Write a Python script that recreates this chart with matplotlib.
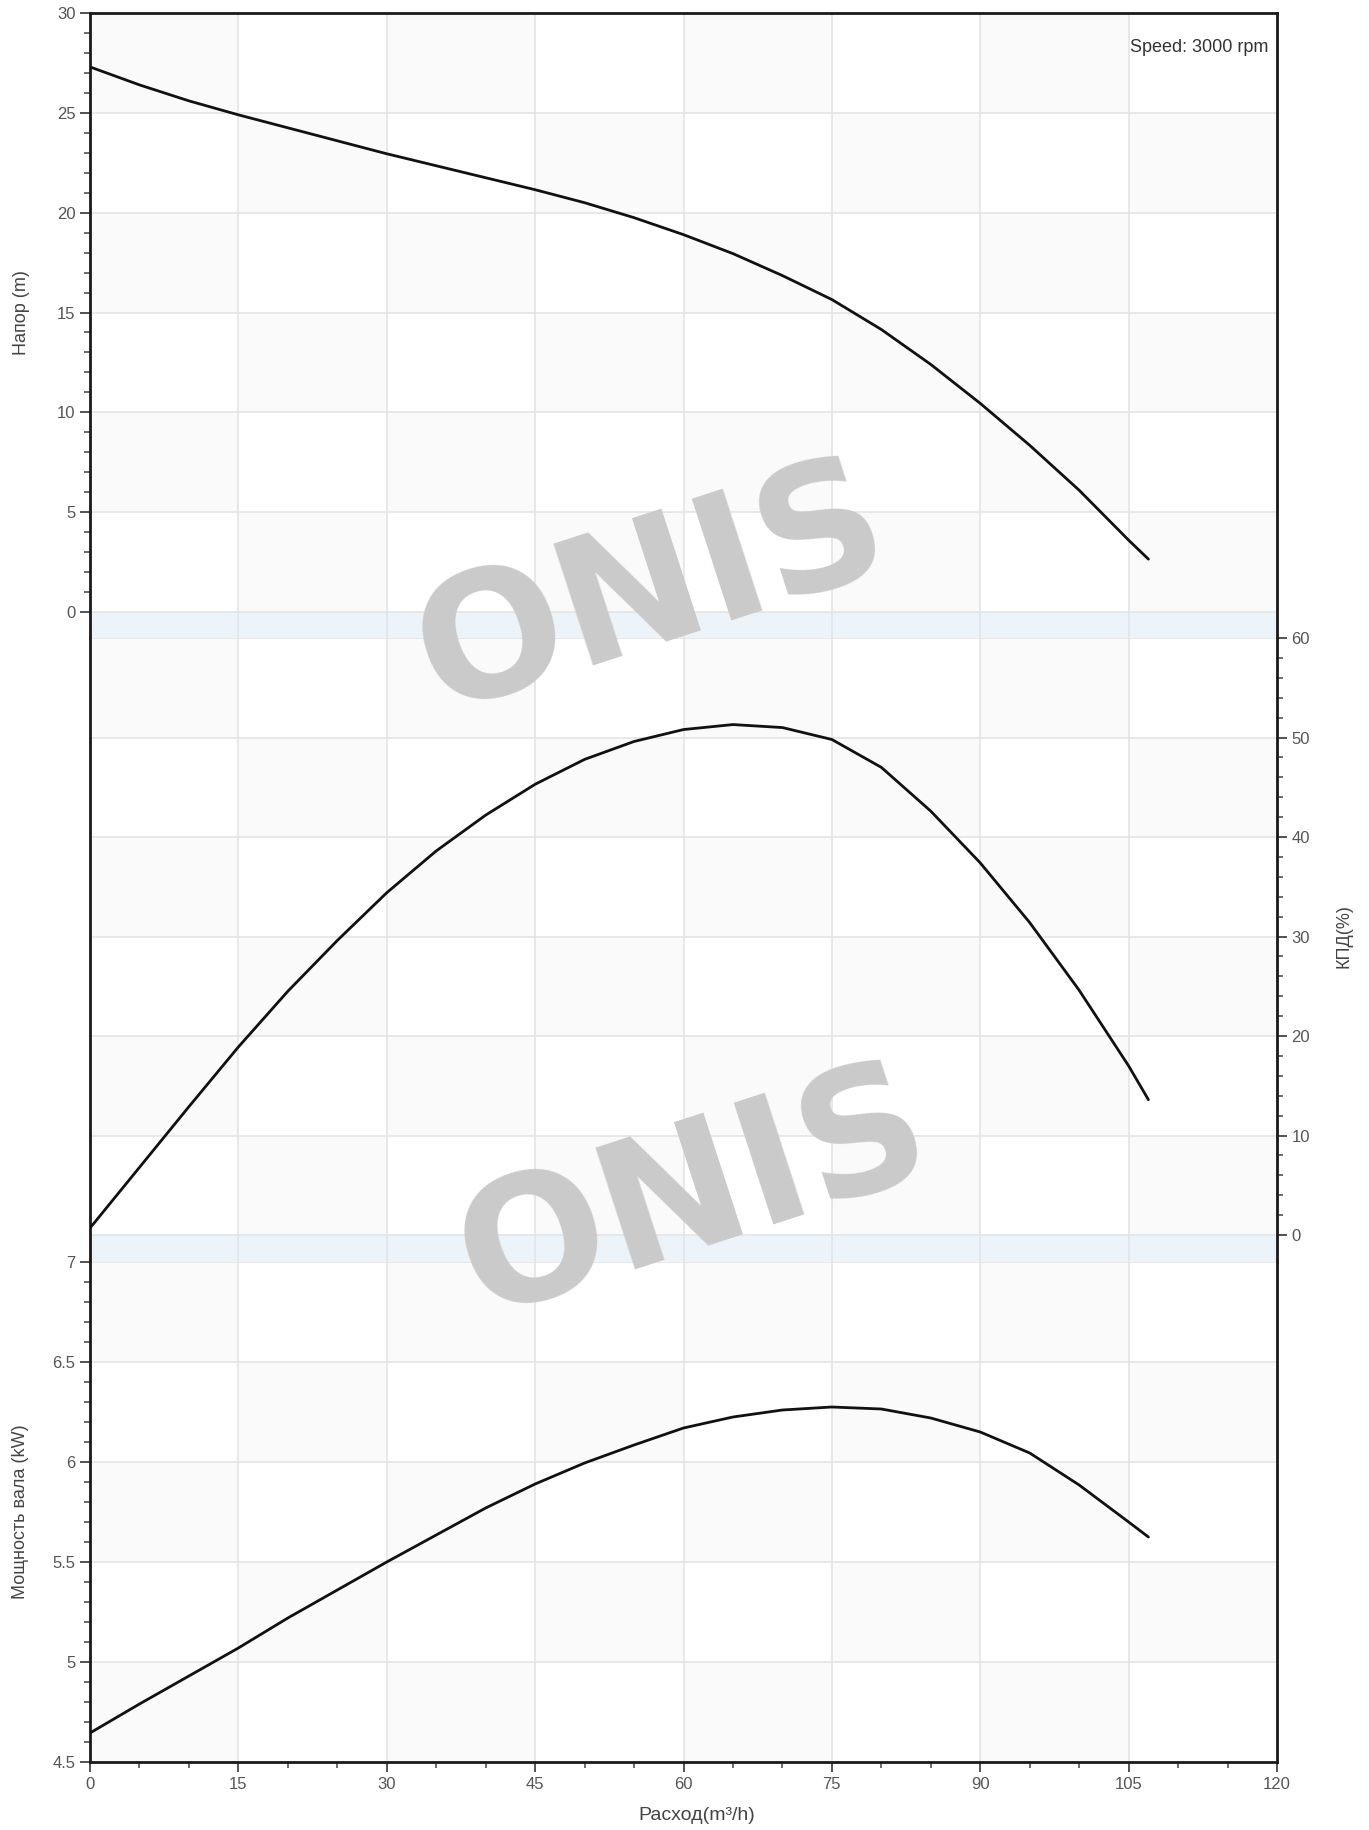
import numpy as np
import matplotlib.pyplot as plt
from matplotlib.colors import ListedColormap
from matplotlib.ticker import MultipleLocator, FixedLocator

plt.rcParams['font.family'] = ['Liberation Sans', 'DejaVu Sans']

# pump curves
flow = [0, 5, 10, 15, 20, 25, 30, 35, 40, 45, 50, 55, 60, 65, 70, 75, 80, 85,
        90, 95, 100, 105, 107]
head = [27.3, 26.4, 25.6, 24.9, 24.25, 23.6, 22.95, 22.35, 21.75, 21.15, 20.5,
        19.75, 18.9, 17.95, 16.85, 15.65, 14.15, 12.4, 10.45, 8.35, 6.1, 3.6, 2.65]
eff = [0.7, 6.8, 12.9, 18.9, 24.5, 29.6, 34.4, 38.6, 42.2, 45.3, 47.8, 49.6,
       50.8, 51.3, 51.0, 49.8, 47.0, 42.6, 37.4, 31.4, 24.6, 17.0, 13.6]
power = [4.645, 4.79, 4.93, 5.07, 5.22, 5.36, 5.5, 5.635, 5.77, 5.89, 5.995,
         6.085, 6.17, 6.225, 6.26, 6.275, 6.265, 6.22, 6.15, 6.045, 5.885, 5.70, 5.625]

x_ticks = [0, 15, 30, 45, 60, 75, 90, 105, 120]
head_ticks = [0, 5, 10, 15, 20, 25, 30]
eff_ticks = [0, 10, 20, 30, 40, 50, 60]
power_ticks = [4.5, 5, 5.5, 6, 6.5, 7]

speed_label = "Speed: 3000 rpm"

W, H = 1369, 1830
fig = plt.figure(figsize=(W / 100, H / 100), dpi=100)

left = 90 / W
width = 1187 / W


def ax_at(top_px, bot_px):
    return fig.add_axes([left, (H - bot_px) / H, width, (bot_px - top_px) / H])


ax_h = ax_at(13, 638)
ax_e = ax_at(638, 1262)
ax_p = ax_at(1262, 1762)

band_col = '#edf4f9'
grid_col = '#e4e4e4'
checker = ListedColormap(['white', '#fafafa'])


def checkerboard(ax, yedges, offset):
    xe = np.array(x_ticks, dtype=float)
    ye = np.array(yedges, dtype=float)
    ii, jj = np.meshgrid(np.arange(len(xe) - 1), np.arange(len(ye) - 1))
    vals = (ii + jj + offset) % 2
    ax.pcolormesh(xe, ye, vals, cmap=checker, vmin=0, vmax=1, zorder=0)


checkerboard(ax_h, head_ticks, 0)
checkerboard(ax_e, eff_ticks, 0)
checkerboard(ax_p, power_ticks, 1)

ax_h.set_ylim(-1.3, 30)
ax_e.set_ylim(-2.71, 60)
ax_p.set_ylim(4.5, 7)
ax_h.axhspan(-1.3, 0, color=band_col, zorder=0.5, lw=0)
ax_e.axhspan(-2.71, 0, color=band_col, zorder=0.5, lw=0)

for ax in (ax_h, ax_e, ax_p):
    ax.set_xlim(0, 120)
    ax.set_xticks(x_ticks)
    ax.xaxis.set_minor_locator(MultipleLocator(5))
    ax.grid(True, which='major', color=grid_col, lw=1.2, zorder=1)
    for s in ax.spines.values():
        s.set_linewidth(2)
        s.set_color('#1a1a1a')
    ax.tick_params(which='major', length=7, width=1.3, color='#444444',
                   labelsize=12, labelcolor='#555555')
    ax.tick_params(which='minor', length=4, width=1.1, color='#444444')

ax_h.spines['bottom'].set_visible(False)
ax_e.spines['top'].set_visible(False)
ax_e.spines['bottom'].set_visible(False)
ax_p.spines['top'].set_visible(False)
for ax in (ax_h, ax_e):
    ax.tick_params(axis='x', which='both', bottom=False, labelbottom=False)

ax_h.set_yticks(head_ticks)
ax_h.yaxis.set_minor_locator(FixedLocator(np.arange(0, 30.01, 1)))
ax_e.set_yticks(eff_ticks)
ax_e.yaxis.set_minor_locator(FixedLocator(np.arange(0, 60.01, 2)))
ax_e.yaxis.tick_right()
ax_e.yaxis.set_label_position('right')
ax_p.set_yticks(power_ticks)
ax_p.set_yticklabels(['4.5', '5', '5.5', '6', '6.5', '7'])
ax_p.yaxis.set_minor_locator(MultipleLocator(0.1))

# ONIS watermark
for cx, cy in [(652, 592), (694, 1196)]:
    fig.text(cx / W, 1 - cy / H, 'ONIS', fontsize=125, fontweight='bold',
             color='#cacaca', rotation=18, ha='center', va='center',
             family='DejaVu Sans', zorder=2)

ax_h.plot(flow, head, color='#111111', lw=2, zorder=5, solid_capstyle='round')
ax_e.plot(flow, eff, color='#111111', lw=2, zorder=5, solid_capstyle='round')
ax_p.plot(flow, power, color='#111111', lw=2, zorder=5, solid_capstyle='round')

for ax in (ax_h, ax_e, ax_p):
    ax.patch.set_alpha(0)

ax_h.text(0.993, 0.945, speed_label, transform=ax_h.transAxes, ha='right',
          va='center', fontsize=13, color='#333333')

fig.text(21 / W, 1 - 313 / H, 'Напор (m)', rotation=90, ha='center', va='center',
         fontsize=13, color='#444444')
fig.text(21 / W, 1 - 1512 / H, 'Мощность вала (kW)', rotation=90, ha='center',
         va='center', fontsize=13, color='#444444')
fig.text(1344 / W, 1 - 936 / H, 'КПД(%)', rotation=90, ha='center', va='center',
         fontsize=13, color='#444444')
fig.text(697 / W, 1 - 1815 / H, 'Расход(m³/h)', ha='center', va='center',
         fontsize=14, color='#444444')

fig.savefig('out.png', dpi=100, facecolor='white')
